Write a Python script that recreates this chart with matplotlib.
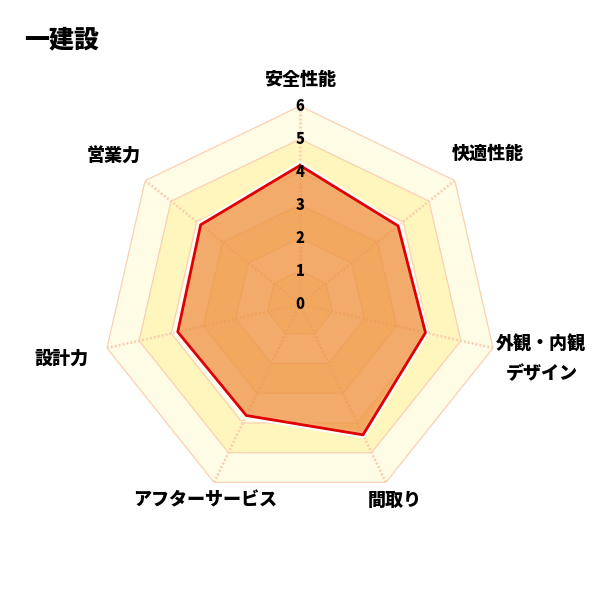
import numpy as np
import matplotlib
matplotlib.use('Agg')
import matplotlib.pyplot as plt

plt.rcParams['font.family'] = ['Noto Sans CJK JP', 'DejaVu Sans']

title = '一建設'
categories = ['安全性能', '快適性能', '外観・内観\nデザイン', '間取り', 'アフターサービス', '設計力', '営業力']
values = [4.2, 3.8, 3.9, 4.4, 3.75, 3.8, 3.85]
ticks = [0, 1, 2, 3, 4, 5, 6]

n = len(categories)
theta = np.linspace(0, 2 * np.pi, n, endpoint=False)
theta_c = np.append(theta, theta[0])

fig = plt.figure(figsize=(6, 6), dpi=100)
ax = fig.add_axes([0.17, 0.1633, 0.66, 0.66], projection='polar')
ax.set_theta_offset(np.pi / 2)
ax.set_theta_direction(-1)
ax.set_ylim(0, 6)
ax.grid(False)
ax.spines['polar'].set_visible(False)
ax.set_xticks([])
ax.set_yticks([])
ax.patch.set_alpha(0)

# background bands
pale = '#FFFCE6'
yellow = '#FFF6BE'
for k in range(6, 0, -1):
    col = pale if k % 2 == 0 else yellow
    ax.fill(theta_c, [k] * (n + 1), color=col, zorder=1, lw=0)
for k in range(1, 7):
    ax.plot(theta_c, [k] * (n + 1), color='#FAD0B2', lw=0.9, zorder=2)
for t in theta:
    ax.plot([t, t], [0, 6], color='#F9CDB0', lw=1.8, ls=(0, (0.8, 0.8)), zorder=2)

# data
vals_c = values + values[:1]
ax.plot(theta_c, vals_c, color='white', lw=5, zorder=2.5)
ax.fill(theta_c, vals_c, color='#EE9040', alpha=0.75, zorder=3, lw=0)
ax.plot(theta_c, vals_c, color='#E00000', lw=2, zorder=4)

for v in ticks:
    ax.text(0, v, str(v), ha='center', va='center', fontsize=10.5,
            fontweight=900, zorder=5)

label_r = [6.8, 7.3, 7.5, 6.6, 6.6, 7.4, 7.2]
for t, lab, r in zip(theta, categories, label_r):
    ax.text(t, r, lab, ha='center', va='center', fontsize=13,
            fontweight=900, linespacing=1.7)

fig.text(0.04, 0.935, title, ha='left', va='center', fontsize=18,
         fontweight=900)

fig.savefig('out.png', dpi=100)
